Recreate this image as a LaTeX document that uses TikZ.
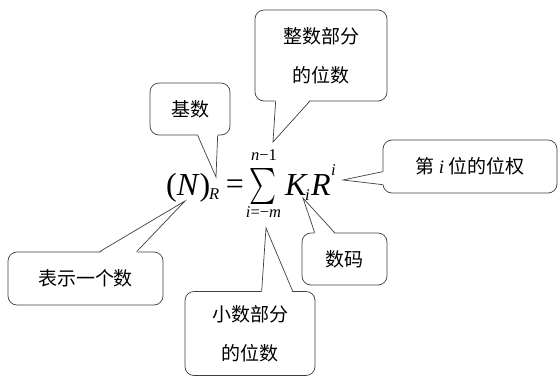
\documentclass[tikz,border=0pt]{standalone}
\usepackage{fontspec}
\usepackage{graphicx}
\newfontfamily\cjk{Noto Sans CJK SC}
\newfontfamily\tms{Liberation Serif}
\usetikzlibrary{calc}
\tikzset{
  bubble/.style={draw=black!75, line width=0.7pt, fill=white, rounded corners=9pt,
    inner sep=0pt, align=center, font=\cjk\fontsize{19}{39}\selectfont},
  tailline/.style={draw=black!75, line width=0.7pt, line join=miter},
  fml/.style={inner sep=0pt, font=\tms\fontsize{32}{32}\selectfont},
  fsub/.style={inner sep=0pt, font=\tms\fontsize{16.5}{16.5}\selectfont}
}
\newcommand\bubtail[4]{%
  \fill[white] ($#1+#4$) -- #3 -- ($#2+#4$) -- cycle;
  \draw[tailline] #1 -- #3 -- #2;}
\begin{document}
\begin{tikzpicture}[x=1pt,y=-1pt]
\useasboundingbox (0,0) rectangle (558,376);
\fill[white] (0,0) rectangle (558,376);

% formula (N)_R = sum_{i=-m}^{n-1} K_i R^i
\node[fml, anchor=base west] (fN) at (166,195) {(\textit{N})};
\node[fsub, anchor=base west] (fNR) at (209,199) {\textit{R}};
\node[fml, anchor=base] (feq) at (235,194) {=};
\node[inner sep=0pt] (fsum) at (263.5,186) {\resizebox*{27pt}{36pt}{$\sum$}};
\node[fsub, anchor=base] (fup) at (264,160) {\textit{n}−1};
\node[fsub, anchor=base] (flo) at (263.5,217) {\textit{i}=−\textit{m}};
\node[fml, anchor=base west] (fK) at (285,195) {\textit{K}};
\node[fsub, anchor=base west] (fKi) at (305,200) {\textit{i}};
\node[fml, anchor=base west] (fR) at (311,195) {\textit{R}};
\node[fsub, anchor=base west] (fRi) at (331,175) {\textit{i}};

% tips
\coordinate (t1) at (216,177);
\coordinate (t2) at (273,142);
\coordinate (t3) at (343,180);
\coordinate (t4) at (185,201);
\coordinate (t5) at (303,198);
\coordinate (t6) at (266,228);

% bubble 1
\node[bubble, minimum width=80pt, minimum height=52pt] (b1) at (190,109) {基数};
\bubtail{([xshift=48pt]b1.south west)}{([xshift=68pt]b1.south west)}{(t1)}{(0,-1.5)}

% bubble 2
\node[bubble, minimum width=132pt, minimum height=91pt] (b2) at (321,55.5) {整数部分\\的位数};
\bubtail{([xshift=21pt]b2.south west)}{([xshift=55pt]b2.south west)}{(t2)}{(0,-1.5)}

% bubble 3
\node[bubble, minimum width=174pt, minimum height=53pt] (b3) at (470,166.5) {第 {\tms\itshape i} 位的位权};
\bubtail{([yshift=-32pt]b3.north west)}{([yshift=-45pt]b3.north west)}{(t3)}{(1.5,0)}

% bubble 4
\node[bubble, minimum width=155pt, minimum height=53pt] (b4) at (85.5,278.5) {表示一个数};
\bubtail{([xshift=92pt]b4.north west)}{([xshift=129pt]b4.north west)}{(t4)}{(0,1.5)}

% bubble 5
\node[bubble, minimum width=85pt, minimum height=52pt] (b5) at (344.5,259) {数码};
\bubtail{([xshift=13pt]b5.north west)}{([xshift=33pt]b5.north west)}{(t5)}{(0,1.5)}

% bubble 6
\node[bubble, minimum width=130pt, minimum height=84pt] (b6) at (250,333.5) {小数部分\\的位数};
\bubtail{([xshift=77pt]b6.north west)}{([xshift=108pt]b6.north west)}{(t6)}{(0,1.5)}
\end{tikzpicture}
\end{document}
